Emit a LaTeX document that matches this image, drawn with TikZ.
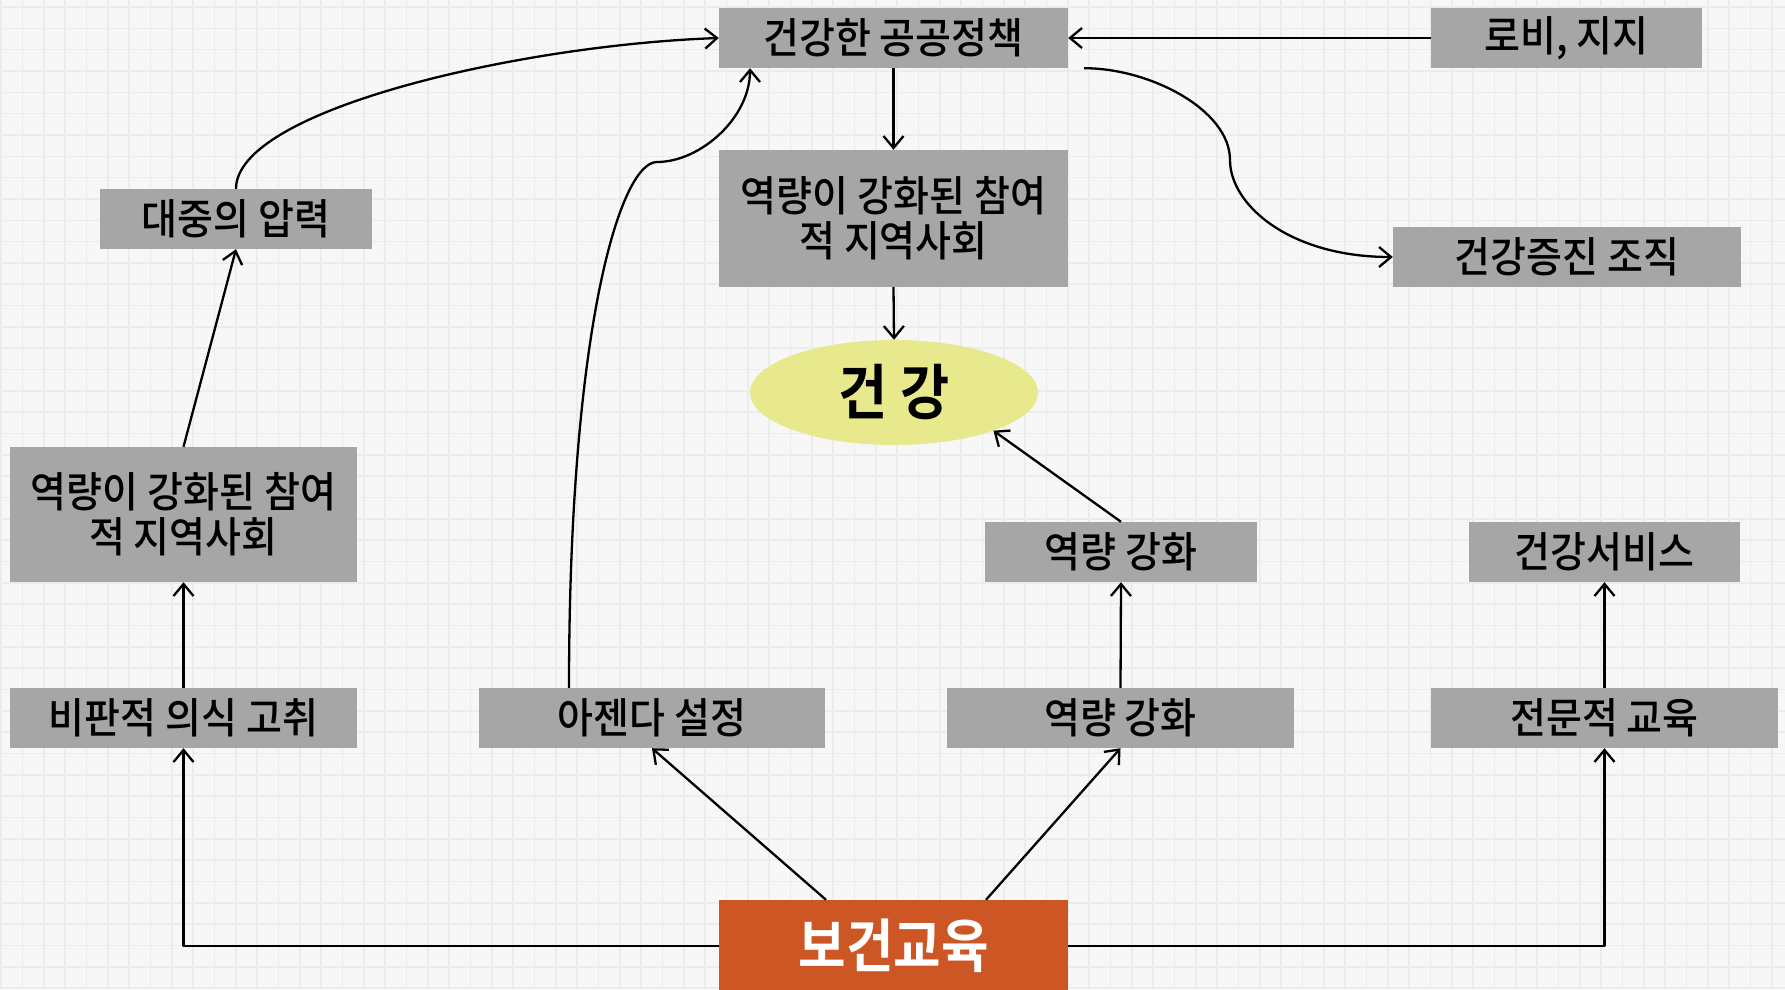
\documentclass[tikz,border=0pt]{standalone}
\usepackage{fontspec}
\newfontfamily\kr{Noto Sans CJK KR Medium}[FakeStretch=0.93]
\newfontfamily\krb{Noto Sans CJK KR Bold}[FakeStretch=0.89]
\usetikzlibrary{arrows.meta,shapes.geometric}
\definecolor{bg}{RGB}{247,247,247}
\definecolor{gridc}{RGB}{236,236,236}
\definecolor{boxgray}{RGB}{166,166,166}
\definecolor{ellyel}{RGB}{232,232,140}
\definecolor{eduor}{RGB}{204,86,36}
\begin{document}
\begin{tikzpicture}[x=1pt,y=-1pt,
  gridl/.style={draw=gridc,line width=1.6pt},
  gbox/.style={fill=boxgray,inner sep=0pt,align=center,text=black,
    font=\kr\fontsize{42}{45}\selectfont},
  conn/.style={draw=black,line width=2.3pt,line join=round,
    -{Straight Barb[length=12pt,width=20pt,line width=2.3pt]}},
  plain/.style={draw=black,line width=2.3pt}]
\useasboundingbox (0,0) rectangle (1785,989);
\fill[bg] (0,0) rectangle (1785,989);
\foreach \i in {0,...,84} \draw[gridl] ({1.3+21.33*\i},0) -- ({1.3+21.33*\i},989);
\foreach \j in {0,...,46} \draw[gridl] (0,{7+21.33*\j}) -- (1785,{7+21.33*\j});

% nodes
\node[gbox,minimum width=349pt,minimum height=60pt] (pol) at (893.5,38) {건강한 공공정책};
\node[gbox,minimum width=271pt,minimum height=60pt] (lobby) at (1566.5,38) {로비, 지지};
\node[gbox,minimum width=272pt,minimum height=60pt] (press) at (236,219) {대중의 압력};
\node[gbox,minimum width=349pt,minimum height=137pt] (comC) at (893.5,218.5) {역량이 강화된 참여\\적 지역사회};
\node[gbox,minimum width=348pt,minimum height=60pt] (org) at (1567,257) {건강증진 조직};
\node[ellipse,fill=ellyel,inner sep=0pt,minimum width=288pt,minimum height=105pt,
  font=\krb\fontsize{60}{64}\selectfont] (health) at (894,392.5) {건 강};
\node[gbox,minimum width=347pt,minimum height=135pt] (comL) at (183.5,514.5) {역량이 강화된 참여\\적 지역사회};
\node[gbox,minimum width=272pt,minimum height=60pt] (capU) at (1121,552) {역량 강화};
\node[gbox,minimum width=271pt,minimum height=60pt] (serv) at (1604.5,552) {건강서비스};
\node[gbox,minimum width=347pt,minimum height=60pt] (crit) at (183.5,718) {비판적 의식 고취};
\node[gbox,minimum width=346pt,minimum height=60pt] (agenda) at (652,718) {아젠다 설정};
\node[gbox,minimum width=347pt,minimum height=60pt] (capL) at (1120.5,718) {역량 강화};
\node[gbox,minimum width=347pt,minimum height=60pt] (prof) at (1604.5,718) {전문적 교육};
\node[fill=eduor,inner sep=0pt,minimum width=349pt,minimum height=92pt,text=white,
  font=\krb\fontsize{58}{62}\selectfont] (edu) at (893.5,946) {보건교육};

% connectors
\draw[conn] (pol.south) -- (comC.north);
\draw[conn] (comC.south) -- (health.north);
\draw[conn] (lobby.west) -- (pol.east);
\draw[conn] ([xshift=16pt]pol.south east) .. controls +(66,0) and +(0,-50) .. (1230,160)
  .. controls +(0,45) and +(-103,0) .. (org.west);
\draw[conn] (press.north) .. controls +(0,-79) and +(-199,7) .. (pol.west);
\draw[conn] ([xshift=-83pt]agenda.north) .. controls +(0,-358) and +(-37,0) .. (657,162)
  .. controls +(43,0) and +(0,50) .. ([xshift=-143.5pt]pol.south);
\draw[conn] (comL.north) -- (press.south);
\draw[conn] (crit.north) -- (comL.south);
\draw[conn] (capL.north) -- (capU.south);
\draw[conn] (capU.north) -- (health.-21);
\draw[conn] (prof.north) -- (serv.south);
\draw[conn] (edu.west) -| (crit.south);
\draw[conn] (edu.east) -| (prof.south);
\draw[conn] ([xshift=-67.5pt]edu.north) -- (agenda.south);
\draw[conn] ([xshift=92.5pt]edu.north) -- (capL.south);
\end{tikzpicture}
\end{document}
